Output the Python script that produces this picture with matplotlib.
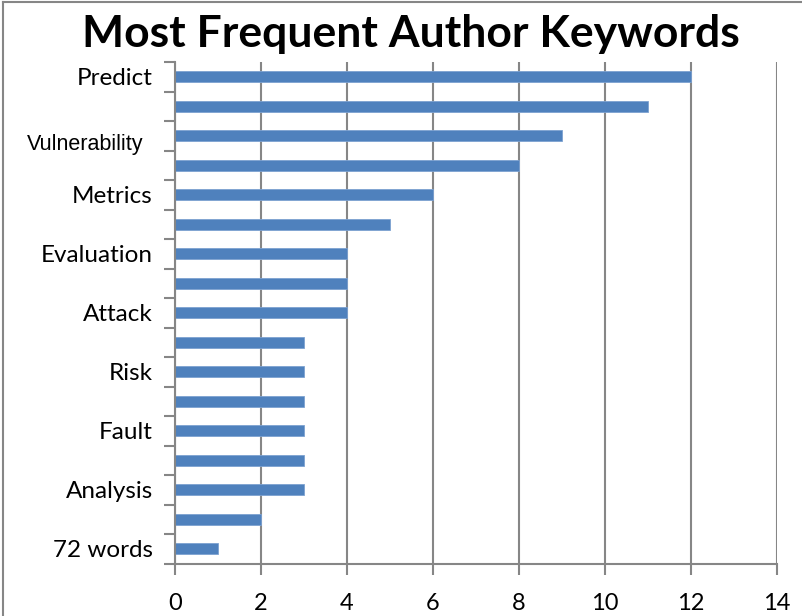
import matplotlib
matplotlib.use("Agg")
import matplotlib.pyplot as plt
from matplotlib.lines import Line2D

title = "Most Frequent Author Keywords"
labels = ["Predict", "", "Vulnerability", "", "Metrics", "", "Evaluation", "",
          "Attack", "", "Risk", "", "Fault", "", "Analysis", "", "72 words"]
values = [12, 11, 9, 8, 6, 5, 4, 4, 4, 3, 3, 3, 3, 3, 3, 2, 1]
xticks = [0, 2, 4, 6, 8, 10, 12, 14]

plt.rcParams['font.family'] = ['Lato', 'DejaVu Sans']

W, H = 802, 616
fig = plt.figure(figsize=(W / 100, H / 100), dpi=100)
ax = fig.add_axes([175 / W, 1 - 563.5 / H, (776.5 - 175) / W, (563.5 - 62) / H])

n = len(values)
ypos = list(range(n))
ax.barh(ypos, values, height=0.37, color="#4F81BD", edgecolor="#7DA2D1", linewidth=0.6, zorder=3)
ax.set_ylim(n - 0.5, -0.5)
ax.set_xlim(0, 14)

ax.set_xticks(xticks)
ax.set_xticklabels([str(t) for t in xticks], fontsize=17)
ax.tick_params(axis='x', length=8, width=1.5, color="#868686", pad=13)
ax.grid(axis='x', color="#868686", linewidth=1.5, zorder=1)

# The "Vulnerability" label is drawn separately (different font, shifted down)
shown = ["" if t == "Vulnerability" else t for t in labels]
ax.set_yticks(ypos)
ax.set_yticklabels(shown, fontsize=17.5)
ax.tick_params(axis='y', length=0, pad=16)
for i, t in enumerate(labels):
    if t == "Vulnerability":
        ax.annotate(t, xy=(0, i), xycoords=('axes fraction', 'data'),
                    xytext=(-32, -14), textcoords='offset pixels',
                    ha='right', va='baseline', fontsize=15.5,
                    family=['Liberation Sans', 'DejaVu Sans'], annotation_clip=False)
ax.set_yticks([i - 0.5 for i in range(n + 1)], minor=True)
ax.tick_params(axis='y', which='minor', length=8, width=1.5, color="#868686")

for s in ["top", "right"]:
    ax.spines[s].set_visible(False)
for s in ["left", "bottom"]:
    ax.spines[s].set_color("#868686")
    ax.spines[s].set_linewidth(1.5)
    ax.spines[s].set_zorder(4)

fig.text(0.5 * (84 + 737) / W, 1 - 34 / H, title, fontsize=32, fontweight='bold',
         ha='center', va='center')

fig.add_artist(Line2D([3.5 / W, 3.5 / W], [0, 1 - 2 / H], color="#868686", linewidth=1.5))
fig.add_artist(Line2D([3.5 / W, 1], [1 - 2 / H, 1 - 2 / H], color="#868686", linewidth=1.5))

fig.savefig("out.png", dpi=100)
